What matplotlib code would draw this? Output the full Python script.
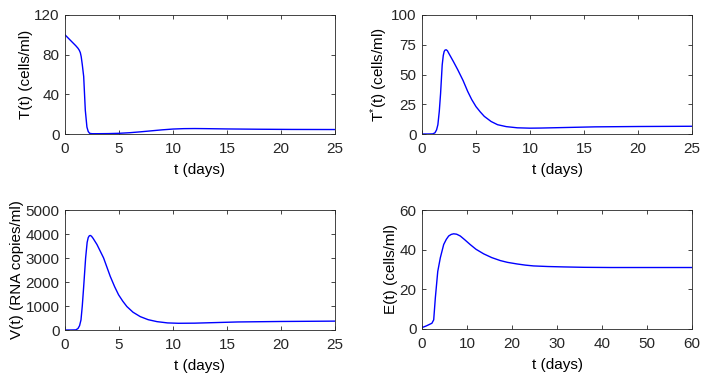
import matplotlib
matplotlib.use('Agg')
import matplotlib.pyplot as plt

plt.rcParams['font.family'] = ['Liberation Sans', 'DejaVu Sans']
plt.rcParams['mathtext.fontset'] = 'custom'
plt.rcParams['mathtext.rm'] = 'Liberation Sans'
plt.rcParams['mathtext.default'] = 'regular'
plt.rcParams['font.size'] = 11

# ================= 数据 =================
t_T = [0, 0.5, 1.0, 1.2, 1.32, 1.42, 1.5, 1.6, 1.73, 1.88, 2.03, 2.15, 2.28, 2.5, 3, 4, 5, 6, 7, 8, 9, 10, 11, 12, 13, 15, 18, 21, 25]
T_vals = [100, 94.5, 89, 86.5, 84.5, 82, 78, 70, 58, 24, 7, 2.5, 0.7, 0.3, 0.3, 0.4, 0.7, 1.3, 2.2, 3.2, 4.2, 5.0, 5.4, 5.5, 5.4, 5.1, 4.8, 4.6, 4.5]

t_Ts = [0, 0.5, 1.0, 1.2, 1.35, 1.47, 1.6, 1.72, 1.87, 1.97, 2.05, 2.13, 2.24, 2.35, 2.5, 2.9, 3.31, 3.8, 4.23, 4.6, 5.0, 5.4, 5.77, 6.4, 7.0, 7.8, 8.83, 10, 11, 12, 14, 16, 20, 25]
Ts_vals = [0, 0, 0.1, 1.0, 3.5, 7.8, 19, 34, 58, 66, 69.3, 70.5, 70.8, 70.0, 67.5, 61, 54, 45, 35.8, 29, 23, 18.5, 14.8, 10.5, 7.8, 6.2, 5.2, 4.9, 5.0, 5.2, 5.6, 6.0, 6.3, 6.5]

t_V = [0, 0.5, 1.0, 1.2, 1.35, 1.48, 1.6, 1.72, 1.91, 2.05, 2.15, 2.25, 2.34, 2.45, 2.6, 2.96, 3.57, 4.19, 4.6, 4.96, 5.35, 5.73, 6.3, 6.97, 7.7, 8.52, 9.5, 10.5, 12, 14, 16, 20, 25]
V_vals = [0, 0, 5, 60, 180, 419, 1000, 1747, 3005, 3650, 3850, 3925, 3940, 3910, 3820, 3562, 3005, 2234, 1800, 1467, 1200, 977, 740, 557, 430, 348, 295, 280, 285, 310, 335, 355, 370]

t_E = [0, 1.0, 2.2, 2.6, 2.96, 3.5, 4.07, 4.82, 5.4, 5.93, 6.5, 7.04, 7.7, 8.5, 9.5, 10.7, 12, 13.7, 15.5, 17.4, 19, 21.1, 23, 24.8, 28, 31.5, 36, 42, 50, 60]
E_vals = [0.7, 1.6, 2.9, 4.6, 15.6, 29, 35.9, 42.6, 45.2, 46.9, 47.7, 48, 47.8, 46.9, 45, 42.6, 40.2, 37.9, 36.0, 34.5, 33.6, 32.8, 32.2, 31.8, 31.5, 31.3, 31.1, 31.0, 31.0, 31.0]

panels = [
    (t_T, T_vals, 'T(t) (cells/ml)', (0, 25), (0, 120), [0, 40, 80, 120], [0, 5, 10, 15, 20, 25]),
    (t_Ts, Ts_vals, r'T$^{*}$(t) (cells/ml)', (0, 25), (0, 100), [0, 25, 50, 75, 100], [0, 5, 10, 15, 20, 25]),
    (t_V, V_vals, 'V(t) (RNA copies/ml)', (0, 25), (0, 5000), [0, 1000, 2000, 3000, 4000, 5000], [0, 5, 10, 15, 20, 25]),
    (t_E, E_vals, 'E(t) (cells/ml)', (0, 60), (0, 60), [0, 20, 40, 60], [0, 10, 20, 30, 40, 50, 60]),
]

# 轴位置 (像素换算为比例)
W, H = 714, 382
boxes = [
    (65, 15, 335, 134),
    (422, 15, 692, 134),
    (65, 210, 335, 330),
    (422, 210, 692, 329),
]

fig = plt.figure(figsize=(W / 100, H / 100), dpi=100)

for (t, y, ylabel, xlim, ylim, yticks, xticks), (x0, y0, x1, y1) in zip(panels, boxes):
    ax = fig.add_axes([x0 / W, 1 - y1 / H, (x1 - x0) / W, (y1 - y0) / H])
    ax.plot(t, y, color='#0000ff', linewidth=1.0)
    ax.set_xlim(*xlim)
    ax.set_ylim(*ylim)
    ax.set_xticks(xticks)
    ax.set_yticks(yticks)
    ax.set_xlabel('t (days)', labelpad=5)
    ax.set_ylabel(ylabel, labelpad=1)
    ax.tick_params(direction='in', top=True, right=True, length=3, width=0.6,
                   color='#262626', labelcolor='#262626')
    ax.tick_params(axis='x', pad=6)
    ax.tick_params(axis='y', pad=4)
    for s in ax.spines.values():
        s.set_color('#262626')
        s.set_linewidth(0.6)

fig.savefig('out.png', dpi=100)
